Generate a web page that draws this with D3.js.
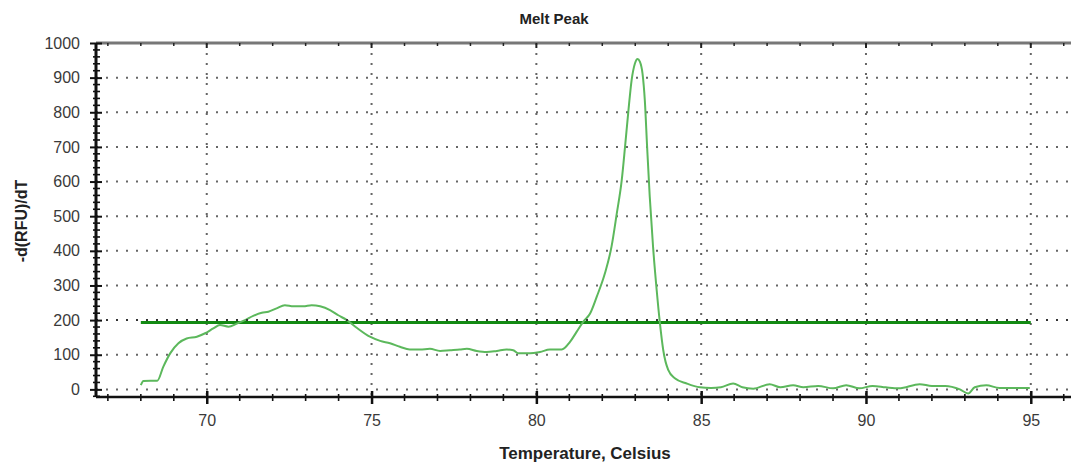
<!DOCTYPE html>
<html>
<head>
<meta charset="utf-8">
<script src="https://cdn.jsdelivr.net/npm/d3@7"></script>
<style>
  html, body { margin: 0; padding: 0; background: #fff; overflow: hidden; }
  svg { display: block; font-family: "Liberation Sans", Arial, sans-serif; }
</style>
</head>
<body>
<svg id="chart" width="1071" height="464"></svg>
<script>
// ---- data ----
const temperature = [68.00, 68.08, 68.3, 68.5, 68.68, 68.89, 69.14, 69.39, 69.7, 69.95,
  70.2, 70.4, 70.66, 70.91, 71.16, 71.41, 71.67, 71.87, 72.12, 72.37,
  72.63, 72.93, 73.18, 73.44, 73.74, 73.99, 74.25, 74.55, 74.95, 75.26,
  75.56, 75.86, 76.16, 76.47, 76.77, 77.08, 77.38, 77.68, 77.89, 78.19,
  78.49, 78.8, 79.1, 79.3, 79.45, 79.81, 80.11, 80.41, 80.77, 81.02,
  81.22, 81.42, 81.63, 81.83, 82.08, 82.28, 82.44, 82.59, 82.69, 82.79,
  82.89, 82.99, 83.07, 83.14, 83.22, 83.29, 83.36, 83.44, 83.54, 83.65,
  83.75, 83.85, 84.0, 84.2, 84.56, 84.96, 85.3, 85.6, 85.97, 86.25,
  86.58, 87.08, 87.4, 87.79, 88.1, 88.55, 89.0, 89.4, 89.8, 90.2,
  90.6, 91.0, 91.63, 92.0, 92.4, 92.85, 93.1, 93.3, 93.65, 94.05,
  94.55, 94.97];
const meltPeak = [12, 24, 25, 25, 65, 104, 133, 147, 152, 162,
  176, 186, 181, 190, 200, 212, 221, 224, 234, 243,
  240, 240, 243, 240, 229, 214, 200, 178, 152, 140,
  133, 123, 115, 115, 117, 111, 113, 115, 117, 111,
  108, 111, 115, 113, 104, 104, 108, 115, 115, 137,
  166, 195, 219, 267, 335, 412, 508, 604, 700, 802,
  893, 941, 954, 946, 912, 835, 700, 556, 412, 287,
  190, 113, 56, 32, 17, 6, 4, 6, 17, 6,
  2, 15, 6, 12, 6, 10, 3, 12, 3, 10,
  6, 3, 15, 10, 10, 0, -12, 6, 12, 4,
  4, 4];
const thresholdValue = 193;
const thresholdRange = [68, 95];
const yTickValues = [0, 100, 200, 300, 400, 500, 600, 700, 800, 900, 1000];
const xTickValues = [70, 75, 80, 85, 90, 95];
const titleText = "Melt Peak";
const xLabelText = "Temperature, Celsius";
const yLabelText = "-d(RFU)/dT";

// ---- layout ----
(function () {
const svg = d3.select("#chart");
const pL = 96, pR = 1071, pT = 43, pB = 397;
const x = d3.scaleLinear().domain([66.64, 96.22]).range([pL, pR]);
const y = d3.scaleLinear().domain([-22, 1000]).range([pB, pT]);

// grid
const gridColor = "#666";
svg.append("g").selectAll("line").data(yTickValues.filter(v => v < 1000)).join("line")
  .attr("x1", pL).attr("x2", pR)
  .attr("y1", d => y(d)).attr("y2", d => y(d))
  .attr("stroke", gridColor).attr("stroke-width", 2).attr("stroke-dasharray", "2 8");
svg.append("g").selectAll("line").data(xTickValues).join("line")
  .attr("x1", d => x(d)).attr("x2", d => x(d))
  .attr("y1", pT).attr("y2", pB)
  .attr("stroke", gridColor).attr("stroke-width", 2).attr("stroke-dasharray", "2 8");

// top border with small ticks
svg.append("line").attr("x1", pL).attr("x2", pR).attr("y1", pT).attr("y2", pT)
  .attr("stroke", "#777").attr("stroke-width", 3);
const topTicks = d3.range(67, 97);
svg.append("g").selectAll("line").data(topTicks).join("line")
  .attr("x1", d => x(d)).attr("x2", d => x(d))
  .attr("y1", pT).attr("y2", d => pT + (d % 5 === 0 ? 5 : 3))
  .attr("stroke", "#222").attr("stroke-width", d => d % 5 === 0 ? 2 : 1.5);

// threshold line
svg.append("line")
  .attr("x1", x(thresholdRange[0])).attr("x2", x(thresholdRange[1]))
  .attr("y1", y(thresholdValue)).attr("y2", y(thresholdValue))
  .attr("stroke", "#138a13").attr("stroke-width", 3);

// melt curve
const pts = temperature.map((t, i) => [t, meltPeak[i]]);
svg.append("path").datum(pts)
  .attr("fill", "none").attr("stroke", "#5cb85c").attr("stroke-width", 2)
  .attr("d", d3.line().x(d => x(d[0])).y(d => y(d[1])).curve(d3.curveMonotoneX));

// grid dots on top of threshold line
svg.append("line").attr("x1", pL).attr("x2", pR)
  .attr("y1", y(200)).attr("y2", y(200))
  .attr("stroke", "#333").attr("stroke-width", 2).attr("stroke-dasharray", "2 8");

// y axis
const yAxis = d3.axisLeft(y).tickValues(yTickValues).tickSize(6).tickPadding(10).tickFormat(d3.format("d"));
const yg = svg.append("g").attr("transform", `translate(${pL},0)`).call(yAxis);
yg.select(".domain").remove();
yg.selectAll(".tick line").attr("x2", 6).attr("x1", -6).attr("stroke", "#111").attr("stroke-width", 2);
yg.selectAll(".tick text").attr("font-size", 16).attr("fill", "#3a3a3a")
  .attr("font-family", "'Liberation Sans', Arial, sans-serif");
const yMinor = d3.range(-20, 1000, 20).filter(v => v % 100 !== 0);
svg.append("g").selectAll("line").data(yMinor).join("line")
  .attr("x1", pL - 3).attr("x2", pL + 4)
  .attr("y1", d => y(d)).attr("y2", d => y(d))
  .attr("stroke", "#111").attr("stroke-width", 1.6);
svg.append("line").attr("x1", pL).attr("x2", pL).attr("y1", pT).attr("y2", pB)
  .attr("stroke", "#111").attr("stroke-width", 3);

// x axis
const xAxis = d3.axisBottom(x).tickValues(xTickValues).tickSize(6).tickPadding(12).tickFormat(d3.format("d"));
const xg = svg.append("g").attr("transform", `translate(0,${pB})`).call(xAxis);
xg.select(".domain").remove();
xg.selectAll(".tick line").attr("y1", -6).attr("y2", 7).attr("stroke", "#111").attr("stroke-width", 2.5);
xg.selectAll(".tick text").attr("font-size", 16).attr("fill", "#3a3a3a")
  .attr("font-family", "'Liberation Sans', Arial, sans-serif");
const xMinor = d3.range(67, 97).filter(v => v % 5 !== 0);
svg.append("g").selectAll("line").data(xMinor).join("line")
  .attr("x1", d => x(d)).attr("x2", d => x(d))
  .attr("y1", pB - 3).attr("y2", pB + 4)
  .attr("stroke", "#111").attr("stroke-width", 1.6);
svg.append("line").attr("x1", pL).attr("x2", pR).attr("y1", pB).attr("y2", pB)
  .attr("stroke", "#111").attr("stroke-width", 2.5);

// titles
svg.append("text").attr("x", 554).attr("y", 24).attr("text-anchor", "middle")
  .attr("font-size", 15).attr("font-weight", "bold").attr("fill", "#222").text(titleText);
svg.append("text").attr("x", 585).attr("y", 459).attr("text-anchor", "middle")
  .attr("font-size", 17).attr("font-weight", "bold").attr("fill", "#222").text(xLabelText);
svg.append("text").attr("transform", "translate(27,221) rotate(-90)").attr("text-anchor", "middle")
  .attr("font-size", 16).attr("font-weight", "bold").attr("fill", "#222").text(yLabelText);
})();
</script>
</body>
</html>
